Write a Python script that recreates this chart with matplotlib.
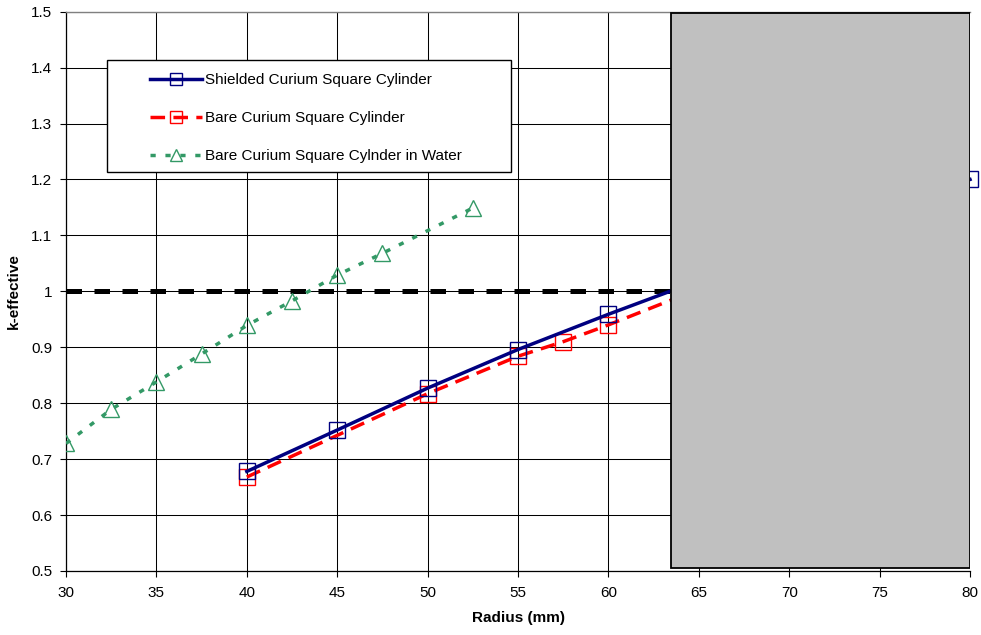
import matplotlib
matplotlib.use("Agg")
import matplotlib.pyplot as plt
from matplotlib.patches import Rectangle
from matplotlib.lines import Line2D

plt.rcParams['font.family'] = ['Liberation Sans', 'DejaVu Sans']

# k-effective versus radius for the three curium configurations
radius_shielded = [40, 45, 50, 55, 60, 80]
keff_shielded = [0.678, 0.752, 0.827, 0.896, 0.959, 1.200]

radius_bare = [40, 50, 55, 57.5, 60, 65]
keff_bare = [0.668, 0.817, 0.884, 0.910, 0.940, 1.004]

radius_water = [30, 32.5, 35, 37.5, 40, 42.5, 45, 47.5, 52.5]
keff_water = [0.728, 0.789, 0.838, 0.888, 0.939, 0.983, 1.029, 1.068, 1.149]

critical_k = 1.0

series_labels = [
    "Shielded Curium Square Cylinder",
    "Bare Curium Square Cylinder",
    "Bare Curium Square Cylnder in Water",
]

x_ticks = [30, 35, 40, 45, 50, 55, 60, 65, 70, 75, 80]
y_ticks = [0.5, 0.6, 0.7, 0.8, 0.9, 1.0, 1.1, 1.2, 1.3, 1.4, 1.5]
y_tick_labels = ["0.5", "0.6", "0.7", "0.8", "0.9", "1", "1.1", "1.2", "1.3", "1.4", "1.5"]

# grey panel covering the right part of the plot area
panel_x = (63.45, 80.0)
panel_y = (0.506, 1.497)

NAVY = "#000080"
RED = "#FF0000"
GREEN = "#339966"
LW = 2.5

fig = plt.figure(figsize=(9.81, 6.35), dpi=100)
ax = fig.add_axes([0.0673, 0.1008, 0.9215, 0.8808])

ax.set_xlim(30, 80)
ax.set_ylim(0.5, 1.5)
ax.set_xticks(x_ticks)
ax.set_yticks(y_ticks)
ax.set_yticklabels(y_tick_labels)
ax.tick_params(axis='both', labelsize=11, length=4, width=0.8, direction='out')
ax.tick_params(axis='x', pad=7)
ax.tick_params(axis='y', pad=6)

ax.grid(True, color='black', linewidth=0.75, zorder=0)
ax.set_axisbelow(True)
for side in ('left', 'bottom'):
    ax.spines[side].set_color('black')
    ax.spines[side].set_linewidth(0.9)
ax.spines['top'].set_color('#808080')
ax.spines['top'].set_linewidth(1.0)
ax.spines['right'].set_visible(False)

# critical line
ax.axhline(critical_k, color='black', linewidth=3.6, dashes=(3.1, 2.5), zorder=2)

ax.plot(radius_water, keff_water, color=GREEN, linewidth=LW, dashes=(1.5, 2.8),
        marker='^', markersize=11.5, markerfacecolor='none',
        markeredgecolor=GREEN, markeredgewidth=1.0, zorder=3)
ax.plot(radius_bare, keff_bare, color=RED, linewidth=LW, dashes=(4.2, 2.4),
        marker='s', markersize=11.5, markerfacecolor='none',
        markeredgecolor=RED, markeredgewidth=1.0, zorder=3)
ax.plot(radius_shielded, keff_shielded, color=NAVY, linewidth=LW,
        marker='s', markersize=11.5, markerfacecolor='none',
        markeredgecolor=NAVY, markeredgewidth=1.0, zorder=3, clip_on=False)

ax.add_patch(Rectangle((panel_x[0], panel_y[0]), panel_x[1] - panel_x[0],
                       panel_y[1] - panel_y[0], facecolor='#C0C0C0',
                       edgecolor='black', linewidth=1.3, zorder=5))

ax.set_xlabel("Radius (mm)", fontsize=11, fontweight='bold', labelpad=8)
ax.set_ylabel("k-effective", fontsize=11, fontweight='bold', labelpad=7)

# legend: boxed frame with the entries placed inside
frame = Rectangle((0.0454, 0.7134), 0.4469, 0.2003, transform=ax.transAxes,
                  facecolor='white', edgecolor='black', linewidth=1.0, zorder=6)
ax.add_patch(frame)

handles = [
    Line2D([], [], color=NAVY, linewidth=LW, marker='s', markersize=11.5,
           markerfacecolor='none', markeredgecolor=NAVY, markeredgewidth=1.0),
    Line2D([], [], color=RED, linewidth=LW, dashes=(4.2, 2.4), marker='s', markersize=11.5,
           markerfacecolor='none', markeredgecolor=RED, markeredgewidth=1.0),
    Line2D([], [], color=GREEN, linewidth=LW, dashes=(1.5, 2.8), marker='^', markersize=11.5,
           markerfacecolor='none', markeredgecolor=GREEN, markeredgewidth=1.0),
]
leg = ax.legend(handles, series_labels, loc='upper left',
                bbox_to_anchor=(0.0932, 0.8895), frameon=False, fontsize=11,
                handlelength=3.4, handletextpad=0.2, labelspacing=1.56,
                borderpad=0, borderaxespad=0, markerscale=0.7)
leg.set_zorder(7)

fig.savefig("out.png", dpi=100)
